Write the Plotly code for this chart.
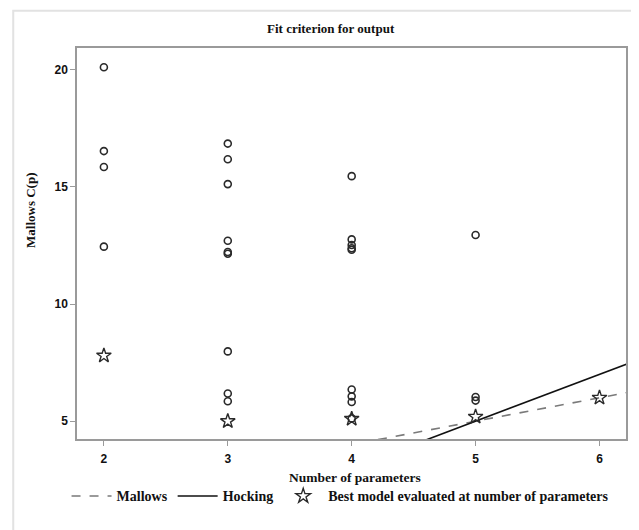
import plotly.graph_objects as go

# Candidate models: number of parameters and Mallows C(p)
cand_p = [2, 2, 2, 2,
          3, 3, 3, 3, 3, 3, 3, 3, 3,
          4, 4, 4, 4, 4, 4, 4, 4, 4,
          5, 5, 5]
cand_cp = [20.11, 16.53, 15.85, 12.45,
           16.85, 16.18, 15.12, 12.70, 12.22, 12.15, 7.98, 6.18, 5.85,
           15.46, 12.76, 12.52, 12.38, 12.32, 6.35, 6.06, 5.82, 5.12,
           12.95, 6.03, 5.88]

# Best model at each number of parameters
best_p = [2, 3, 4, 5, 6]
best_cp = [7.80, 5.00, 5.10, 5.19, 6.00]

# Reference lines
line_p = [1.5, 6.5]
mallows_line = [1.5, 6.5]      # C(p) = p
hocking_line = [-2.0, 8.0]     # C(p) = 2p - 6 + 1

x_ticks = [2, 3, 4, 5, 6]
y_ticks = [5, 10, 15, 20]

serif = "Liberation Serif"
sans = "Liberation Sans"

fig = go.Figure()
fig.add_trace(go.Scatter(x=line_p, y=mallows_line, mode="lines", name="<b>Mallows</b>",
                         line=dict(color="#7a7a7a", width=1.6, dash="dash")))
fig.add_trace(go.Scatter(x=line_p, y=hocking_line, mode="lines", name="<b>Hocking</b>",
                         line=dict(color="#111111", width=1.6)))
fig.add_trace(go.Scatter(x=cand_p, y=cand_cp, mode="markers", showlegend=False,
                         marker=dict(symbol="circle-open", size=7, color="#2a2a2a",
                                     line=dict(width=1.6, color="#2a2a2a"))))
fig.add_trace(go.Scatter(x=best_p, y=best_cp, mode="markers",
                         name="<b>Best model evaluated at number of parameters</b>",
                         marker=dict(symbol="star-open", size=11, color="#2a2a2a",
                                     line=dict(width=1.4, color="#2a2a2a"))))

OFF = 8  # page body margin
W, H = 639 - OFF, 530 - OFF
L, R, T, B = 77 - OFF, 628 - OFF, 48 - OFF, 439.5 - OFF
pw, ph = R - L, B - T

def px(x):
    return (x - OFF - L) / pw

def py(y):
    return (B - (y - OFF)) / ph

fig.update_layout(
    width=W, height=H,
    margin=dict(l=L, r=W - R, t=T, b=H - B, pad=0),
    paper_bgcolor="white", plot_bgcolor="white",
    showlegend=True,
    legend=dict(orientation="h", x=px(341), y=py(497), xanchor="center", yanchor="middle",
                font=dict(family=serif, size=14, color="#111"),
                itemwidth=40, tracegroupgap=0, bgcolor="rgba(0,0,0,0)"),
    xaxis=dict(range=[1.783, 6.214], tickvals=x_ticks, ticks="outside", ticklen=5,
               tickcolor="#9a9a9a", showline=True, linecolor="#9a9a9a", linewidth=1.5,
               mirror=True, showgrid=False, zeroline=False, ticklabelstandoff=3,
               tickfont=dict(family=sans, size=12, color="#111", weight="bold")),
    yaxis=dict(range=[4.24, 20.93], tickvals=y_ticks, ticks="outside", ticklen=5,
               tickcolor="#9a9a9a", showline=True, linecolor="#9a9a9a", linewidth=1.5,
               mirror=True, showgrid=False, zeroline=False,
               tickfont=dict(family=sans, size=12, color="#111", weight="bold")),
    annotations=[
        dict(text="<b>Fit criterion for output</b>", x=px(332), y=py(28), xref="paper", yref="paper",
             showarrow=False, xanchor="center", yanchor="middle",
             font=dict(family=serif, size=13, color="#111")),
        dict(text="<b>Mallows C(p)</b>", x=px(31), y=py(211), xref="paper", yref="paper",
             showarrow=False, xanchor="center", yanchor="middle", textangle=-90,
             font=dict(family=serif, size=13, color="#111")),
        dict(text="<b>Number of parameters</b>", x=px(356), y=py(478), xref="paper", yref="paper",
             showarrow=False, xanchor="center", yanchor="middle",
             font=dict(family=serif, size=13.5, color="#111")),
    ],
    shapes=[
        dict(type="rect", xref="paper", yref="paper", x0=px(13), x1=px(636), y0=py(545), y1=py(10.7),
             line=dict(color="#e2e2e2", width=2), fillcolor="rgba(0,0,0,0)", layer="below"),
    ],
)

fig.write_html("out.html")
